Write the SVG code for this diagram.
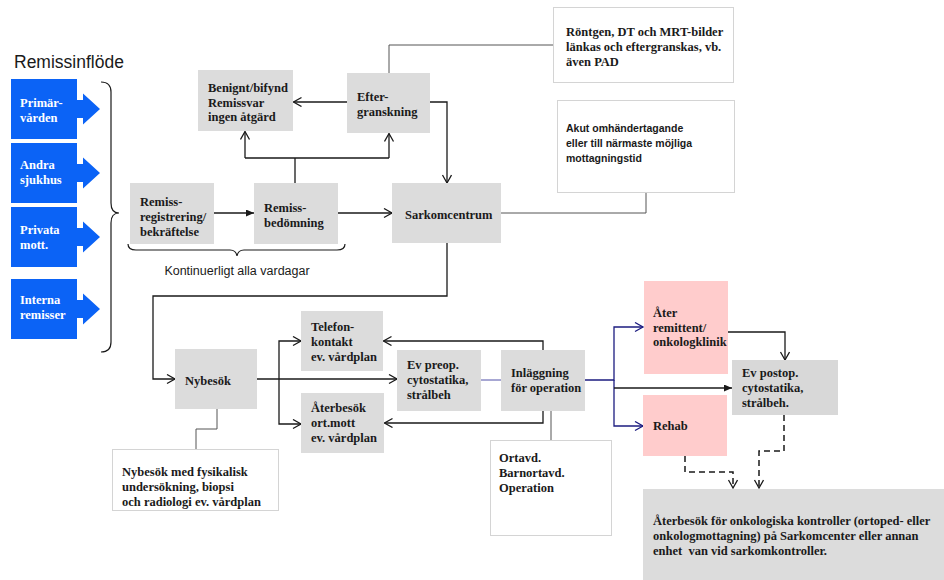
<svg xmlns="http://www.w3.org/2000/svg" width="944" height="580" viewBox="0 0 944 580">
<style>
.t{font-family:"Liberation Serif","Times New Roman",serif;font-weight:bold;font-size:12.5px;fill:#1a1a1a}
.w{font-family:"Liberation Serif","Times New Roman",serif;font-weight:bold;font-size:12.5px;fill:#ffffff}
.s{font-family:"Liberation Sans",Arial,sans-serif;fill:#1a1a1a}
.sb{font-family:"Liberation Sans",Arial,sans-serif;font-weight:bold;font-size:10.5px;fill:#1a1a1a}
.g{fill:#dcdcdc}
.p{fill:#ffcccc}
.n{fill:#ffffff;stroke:#d4d4d4;stroke-width:1}
.b{fill:#0b63f6}
.c{fill:none;stroke:#1a1a1a;stroke-width:1.3}
.cg{fill:none;stroke:#555555;stroke-width:1}
.cb{fill:none;stroke:#1c1c80;stroke-width:1.3}
.cl{fill:none;stroke:#5050a8;stroke-width:1}
.cd{fill:none;stroke:#1a1a1a;stroke-width:1.5;stroke-dasharray:6,4}
.br{fill:none;stroke:#1a1a1a;stroke-width:1.2}
</style>
<defs>
<marker id="o" markerUnits="userSpaceOnUse" markerWidth="12" markerHeight="12" refX="9" refY="5" orient="auto">
<path d="M1,0.5 L9,5 L1,9.5" fill="none" stroke="#1a1a1a" stroke-width="1.3"/>
</marker>
<marker id="ob" markerUnits="userSpaceOnUse" markerWidth="12" markerHeight="12" refX="9" refY="5" orient="auto">
<path d="M1,0.5 L9,5 L1,9.5" fill="none" stroke="#1c1c80" stroke-width="1.3"/>
</marker>
<marker id="f" markerUnits="userSpaceOnUse" markerWidth="10" markerHeight="10" refX="8" refY="3.5" orient="auto">
<path d="M0,0 L8,3.5 L0,7 Z" fill="#1a1a1a"/>
</marker>
</defs>

<text class="s" x="14" y="68" font-size="17.5">Remissinflöde</text>

<g id="primarvarden">
<path class="b" d="M11,79 H77 V100 H83 V93.5 L100,109 L83,124.5 V118 H77 V139 H11 Z"/>
<text class="w" x="20" y="107">Primär-</text>
<text class="w" x="20" y="122">vården</text>
</g>
<g id="andra-sjukhus">
<path class="b" d="M11,143 H77 V164 H83 V157.5 L100,173 L83,188.5 V182 H77 V203 H11 Z"/>
<text class="w" x="20" y="169">Andra</text>
<text class="w" x="20" y="184">sjukhus</text>
</g>
<g id="privata-mott">
<path class="b" d="M11,207 H77 V228 H83 V221.5 L100,237 L83,252.5 V246 H77 V267 H11 Z"/>
<text class="w" x="20" y="234">Privata</text>
<text class="w" x="20" y="249">mott.</text>
</g>
<g id="interna-remisser">
<path class="b" d="M11,279 H77 V300 H83 V293.5 L100,309 L83,324.5 V318 H77 V339 H11 Z"/>
<text class="w" x="20" y="304">Interna</text>
<text class="w" x="20" y="319">remisser</text>
</g>

<g id="brace-left">
<path class="br" d="M101,82 Q111,82 111,92 V203 Q111,213 119,213 Q111,213 111,223 V342 Q111,352 101,352"/>
</g>

<g id="brace-bottom">
<path class="br" d="M128,244 Q128,250 136,250 H230 Q236,250 237,256 Q238,250 244,250 H337 Q345,250 345,244"/>
<text class="s" x="237" y="275" font-size="12.5" text-anchor="middle">Kontinuerligt alla vardagar</text>
</g>

<g id="connectors">
<path class="c" d="M214,213 H254" marker-end="url(#f)"/>
<path class="c" d="M338,213 H392" marker-end="url(#o)"/>
<path class="c" d="M295,183 V158 M245,158 H389"/>
<path class="c" d="M245,158 V131.5" marker-end="url(#o)"/>
<path class="c" d="M389,158 V133.5" marker-end="url(#o)"/>
<path class="c" d="M347,102 H293.5" marker-end="url(#o)"/>
<path class="c" d="M430,102 H447 V183" marker-end="url(#o)"/>
<path class="cg" d="M389,73 V45 H553"/>
<path class="cg" d="M501,213 H646 V192"/>
<path class="c" d="M447,243 V296 H153 V379 H175" marker-end="url(#o)"/>
<path class="c" d="M257,379 H397" marker-end="url(#o)"/>
<path class="c" d="M279,379 V341 H301" marker-end="url(#o)"/>
<path class="c" d="M279,379 V424 H301" marker-end="url(#o)"/>
<path class="c" d="M543,350 V341 H383.5" marker-end="url(#o)"/>
<path class="c" d="M543,411 V423 H384.5" marker-end="url(#o)"/>
<path class="cg" d="M551,411 V440"/>
<path class="cl" d="M481,380 H501"/>
<path class="cb" d="M585,380 H614 V327 H643" marker-end="url(#ob)"/>
<path class="cb" d="M614,380 V426 H643" marker-end="url(#ob)"/>
<path class="c" d="M614,388 H732" marker-end="url(#f)"/>
<path class="c" d="M728,332 H785 V360" marker-end="url(#o)"/>
<path class="cd" d="M784,415 V451 H759 V488" marker-end="url(#o)"/>
<path class="cd" d="M685,456 V472 H733 V488" marker-end="url(#o)"/>
<path class="cg" d="M217,409 V429 H196 V449"/>
</g>

<g id="benignt">
<rect class="g" x="198" y="70" width="95" height="61"/>
<text class="t" x="208" y="92">Benignt/bifynd</text>
<text class="t" x="208" y="106.5">Remissvar</text>
<text class="t" x="208" y="121">ingen åtgärd</text>
</g>
<g id="eftergranskning">
<rect class="g" x="347" y="73" width="83" height="60"/>
<text class="t" x="357" y="101">Efter-</text>
<text class="t" x="357" y="116">granskning</text>
</g>
<g id="remissregistrering">
<rect class="g" x="130" y="183" width="84" height="61"/>
<text class="t" x="140" y="206">Remiss-</text>
<text class="t" x="140" y="221">registrering/</text>
<text class="t" x="140" y="236">bekräftelse</text>
</g>
<g id="remissbedomning">
<rect class="g" x="254" y="183" width="84" height="61"/>
<text class="t" x="264" y="212">Remiss-</text>
<text class="t" x="264" y="227">bedömning</text>
</g>
<g id="sarkomcentrum">
<rect class="g" x="392" y="183" width="109" height="60"/>
<text class="t" x="405" y="219">Sarkomcentrum</text>
</g>
<g id="rontgen">
<rect class="n" x="553.5" y="7.5" width="180" height="75"/>
<text class="t" x="566" y="36" font-size="13">Röntgen, DT och MRT-bilder</text>
<text class="t" x="566" y="51" font-size="13">länkas och eftergranskas, vb.</text>
<text class="t" x="566" y="66" font-size="13">även PAD</text>
</g>
<g id="akut">
<rect class="n" x="557.5" y="100.5" width="177" height="92"/>
<text class="sb" x="566" y="132">Akut omhändertagande</text>
<text class="sb" x="566" y="147">eller till närmaste möjliga</text>
<text class="sb" x="566" y="162">mottagningstid</text>
</g>
<g id="nybesok">
<rect class="g" x="175" y="349" width="82" height="60"/>
<text class="t" x="185" y="385">Nybesök</text>
</g>
<g id="nybesok-note">
<rect class="n" x="112.5" y="449.5" width="166" height="61"/>
<text class="t" x="122" y="476">Nybesök med fysikalisk</text>
<text class="t" x="122" y="491">undersökning, biopsi</text>
<text class="t" x="122" y="506">och radiologi ev. vårdplan</text>
</g>
<g id="telefonkontakt">
<rect class="g" x="301" y="311" width="82" height="60"/>
<text class="t" x="311" y="331">Telefon-</text>
<text class="t" x="311" y="346">kontakt</text>
<text class="t" x="311" y="361">ev. vårdplan</text>
</g>
<g id="aterbesok">
<rect class="g" x="301" y="393" width="83" height="60"/>
<text class="t" x="311" y="412">Återbesök</text>
<text class="t" x="311" y="427">ort.mott</text>
<text class="t" x="311" y="442">ev. vårdplan</text>
</g>
<g id="ev-preop">
<rect class="g" x="397" y="350" width="84" height="61"/>
<text class="t" x="407" y="369">Ev preop.</text>
<text class="t" x="407" y="384">cytostatika,</text>
<text class="t" x="407" y="399">strålbeh</text>
</g>
<g id="inlaggning">
<rect class="g" x="501" y="350" width="84" height="61"/>
<text class="t" x="511" y="377">Inläggning</text>
<text class="t" x="511" y="392">för operation</text>
</g>
<g id="ortavd">
<rect class="n" x="490.5" y="440.5" width="121" height="95"/>
<text class="t" x="499" y="462">Ortavd.</text>
<text class="t" x="499" y="477">Barnortavd.</text>
<text class="t" x="499" y="492">Operation</text>
</g>
<g id="ater-remittent">
<rect class="p" x="644" y="281" width="84" height="93"/>
<text class="t" x="653" y="317">Åter</text>
<text class="t" x="653" y="332">remittent/</text>
<text class="t" x="653" y="346">onkologklinik</text>
</g>
<g id="rehab">
<rect class="p" x="643" y="395" width="84" height="61"/>
<text class="t" x="653" y="430">Rehab</text>
</g>
<g id="ev-postop">
<rect x="732" y="360" width="106" height="55" fill="#d8d8d8"/>
<text class="t" x="742" y="377">Ev postop.</text>
<text class="t" x="742" y="392">cytostatika,</text>
<text class="t" x="742" y="407">strålbeh.</text>
</g>
<g id="aterbesok-kontroller">
<rect class="g" x="643" y="489" width="301" height="91"/>
<text class="t" x="653" y="525">Återbesök för onkologiska kontroller (ortoped- eller</text>
<text class="t" x="653" y="540">onkologmottagning) på Sarkomcenter eller annan</text>
<text class="t" x="653" y="555" xml:space="preserve">enhet  van vid sarkomkontroller.</text>
</g>
</svg>
